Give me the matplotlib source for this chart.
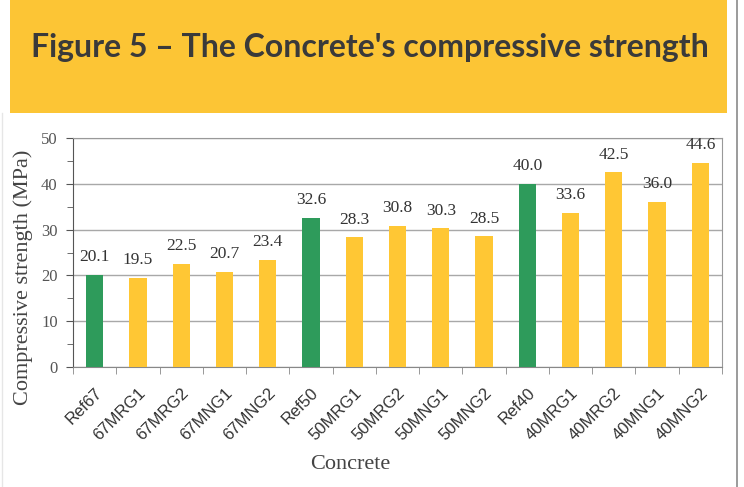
import matplotlib
matplotlib.use("Agg")
import matplotlib.pyplot as plt
from matplotlib.patches import Rectangle
from matplotlib.lines import Line2D
import numpy as np

categories = ["Ref67", "67MRG1", "67MRG2", "67MNG1", "67MNG2", "Ref50", "50MRG1",
              "50MRG2", "50MNG1", "50MNG2", "Ref40", "40MRG1", "40MRG2", "40MNG1", "40MNG2"]
values = [20.1, 19.5, 22.5, 20.7, 23.4, 32.6, 28.3, 30.8, 30.3, 28.5, 40.0, 33.6, 42.5, 36.0, 44.6]
is_ref = [True, False, False, False, False, True, False, False, False, False, True, False, False, False, False]
title = "Figure 5 \u2013 The Concrete's compressive strength"
ylabel = "Compressive strength (MPa)"
xlabel = "Concrete"

W, H = 744, 487
fig = plt.figure(figsize=(W / 100, H / 100), dpi=100)
fig.patch.set_facecolor("white")

# banner
fig.patches.append(Rectangle((10 / W, 1 - 113 / H), 717 / W, 113 / H,
                             transform=fig.transFigure, facecolor="#FCC535",
                             edgecolor="none", zorder=0))
fig.text(370 / W, 1 - 48 / H, title, ha="center", va="center",
         fontsize=23, fontweight="bold", family="Lato", color="#3a3a3a")
# frame lines
fig.lines.append(Line2D([737 / W, 737 / W], [0, 1], transform=fig.transFigure,
                        color="#8a8a8a", lw=1.2))
fig.lines.append(Line2D([2 / W, 2 / W], [0, 1 - 113 / H], transform=fig.transFigure,
                        color="#e6e6e6", lw=1.0))

left, right, top, bottom = 73, 722, 138, 367
ax = fig.add_axes([left / W, 1 - bottom / H, (right - left) / W, (bottom - top) / H])

x = np.arange(len(categories))
colors = ["#2E9B5B" if r else "#FFC734" for r in is_ref]
ax.bar(x, values, width=0.4, color=colors, zorder=3)
for xi, v in zip(x, values):
    ax.annotate(f"{v:.1f}", (xi, v), xytext=(0, 7), textcoords="offset points",
                ha="center", va="bottom", fontsize=12.5, family="Liberation Serif",
                color="#333333")

ax.set_xlim(-0.5, len(categories) - 0.5)
ax.set_ylim(0, 50)
ax.set_yticks(np.arange(0, 51, 10))
ax.set_yticks(np.arange(5, 50, 10), minor=True)
ax.yaxis.grid(True, which="major", color="#a8a8a8", lw=1.0, zorder=0)
ax.set_xticks(x)
ax.set_xticks(np.arange(-0.5, len(categories), 1.0), minor=True)
ax.set_xticklabels(categories, rotation=45, ha="right", rotation_mode="anchor",
                   family="Liberation Sans", fontsize=12, color="#333333")
ax.tick_params(axis="x", which="major", length=0, pad=13)
ax.tick_params(axis="x", which="minor", length=5, color="#888888", direction="out")
ax.tick_params(axis="y", which="major", length=5, color="#555555", direction="out",
               labelsize=12, labelcolor="#555555", pad=6)
ax.tick_params(axis="y", which="minor", length=4, color="#555555", direction="out")
for lab in ax.get_yticklabels():
    lab.set_family("Liberation Serif")
for s in ["top", "right"]:
    ax.spines[s].set_color("#999999")
ax.spines["bottom"].set_color("#888888")
ax.spines["left"].set_color("#555555")

ax.set_ylabel(ylabel, family="Liberation Serif", fontsize=16, color="#444444")
ax.set_xlabel(xlabel, family="Liberation Serif", fontsize=16, color="#444444")
ax.yaxis.set_label_coords(-40 / (right - left), (bottom - 277) / (bottom - top))
ax.xaxis.set_label_coords((350 - left) / (right - left), -(455 - bottom) / (bottom - top))

fig.savefig("out.png", dpi=100)
